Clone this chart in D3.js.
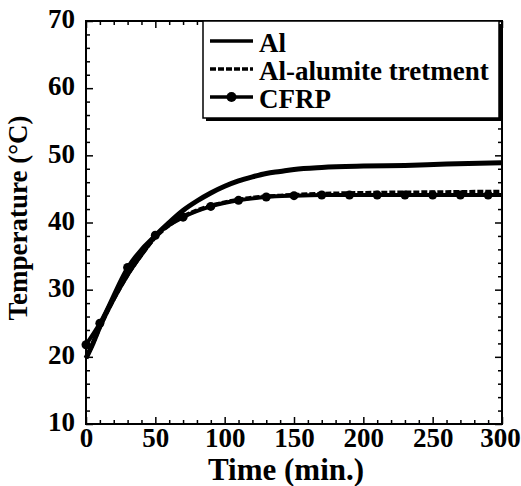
<!DOCTYPE html>
<html>
<head>
<meta charset="utf-8">
<title>Temperature vs time</title>
</head>
<body style="margin:0; background:#fff">
<script src="https://d3js.org/d3.v7.min.js"></script>
<script>
// data (time in min, temperature in degC)
const alTime = [0, 5, 10, 20, 30, 40, 50, 60, 70, 80, 90, 100, 110, 120, 130, 140, 150, 170, 200, 230, 260, 300];
const alTemp = [19.8, 22.0, 24.5, 28.7, 32.3, 35.3, 38.0, 40.0, 41.8, 43.2, 44.4, 45.4, 46.2, 46.8, 47.3, 47.6, 47.9, 48.2, 48.4, 48.5, 48.7, 48.9];

const alumTime = [0, 5, 10, 20, 30, 40, 50, 60, 70, 80, 90, 100, 110, 120, 140, 160, 200, 250, 300];
const alumTemp = [19.8, 22.0, 24.4, 28.6, 32.2, 35.2, 37.8, 39.6, 40.9, 41.8, 42.5, 43.0, 43.4, 43.7, 44.0, 44.2, 44.4, 44.5, 44.6];

const cfrpTime = [0, 10, 30, 50, 70, 90, 110, 130, 150, 170, 190, 210, 230, 250, 270, 290, 300];
const cfrpTemp = [21.8, 25.0, 33.3, 38.1, 40.8, 42.4, 43.3, 43.8, 44.0, 44.1, 44.1, 44.1, 44.1, 44.1, 44.1, 44.1, 44.1];

const legendNames = ["Al", "Al-alumite tretment", "CFRP"];
const xTicks = [0, 50, 100, 150, 200, 250, 300];
const yTicks = [10, 20, 30, 40, 50, 60, 70];

const FONT = "'Liberation Serif', 'Times New Roman', serif";
const w = 521, h = 486;
const margin = {top: 21, right: 19, bottom: 62, left: 86};
const inner_w = w - margin.left - margin.right;
const inner_h = h - margin.top - margin.bottom;

const svg = d3.select('body').append('svg').attr('width', w).attr('height', h);
const g = svg.append('g').attr('transform', `translate(${margin.left},${margin.top})`);

const x = d3.scaleLinear().domain([0, 300]).range([0, inner_w]);
const y = d3.scaleLinear().domain([10, 70]).range([inner_h, 0]);

// minor ticks
const xMinor = d3.range(0, 301, 10).filter(d => d % 50 !== 0);
const yMinor = d3.range(10, 71, 2).filter(d => d % 10 !== 0);

function styleAxis(sel) {
  sel.select('.domain').remove();
  sel.selectAll('line').attr('stroke', '#000').attr('stroke-width', 1.5);
  sel.selectAll('text').attr('fill', '#000');
}

// bottom
g.append('g').attr('transform', `translate(0,${inner_h})`)
  .call(d3.axisBottom(x).tickValues(xTicks).tickSizeInner(-7).tickSizeOuter(0))
  .call(styleAxis)
  .selectAll('text').attr('font-size', 27).attr('dy', '0.71em').attr('y', 4)
  .attr('dx', d => d === 300 ? -2 : 0); // keep the last label inside the window
g.append('g').attr('transform', `translate(0,${inner_h})`)
  .call(d3.axisBottom(x).tickValues(xMinor).tickSizeInner(-4).tickSizeOuter(0).tickFormat(''))
  .call(styleAxis);
// top
g.append('g')
  .call(d3.axisTop(x).tickValues(xTicks).tickSizeInner(-7).tickSizeOuter(0).tickFormat(''))
  .call(styleAxis);
g.append('g')
  .call(d3.axisTop(x).tickValues(xMinor).tickSizeInner(-4).tickSizeOuter(0).tickFormat(''))
  .call(styleAxis);
// left
g.append('g')
  .call(d3.axisLeft(y).tickValues(yTicks).tickSizeInner(-7).tickSizeOuter(0))
  .call(styleAxis)
  .selectAll('text').attr('font-size', 27).attr('x', -11).attr('dy', '0.25em');
g.append('g')
  .call(d3.axisLeft(y).tickValues(yMinor).tickSizeInner(-4).tickSizeOuter(0).tickFormat(''))
  .call(styleAxis);
// right
g.append('g').attr('transform', `translate(${inner_w},0)`)
  .call(d3.axisRight(y).tickValues(yTicks).tickSizeInner(-7).tickSizeOuter(0).tickFormat(''))
  .call(styleAxis);
g.append('g').attr('transform', `translate(${inner_w},0)`)
  .call(d3.axisRight(y).tickValues(yMinor).tickSizeInner(-4).tickSizeOuter(0).tickFormat(''))
  .call(styleAxis);

// frame
g.append('rect').attr('width', inner_w).attr('height', inner_h)
  .attr('fill', 'none').attr('stroke', '#000').attr('stroke-width', 2);

// curves
const line = d3.line().x(d => x(d[0])).y(d => y(d[1])).curve(d3.curveMonotoneX);

g.append('path').datum(d3.zip(cfrpTime, cfrpTemp))
  .attr('d', line).attr('fill', 'none').attr('stroke', '#000').attr('stroke-width', 4);
g.selectAll('circle.cfrp').data(d3.zip(cfrpTime, cfrpTemp).filter(d => d[0] < 300))
  .enter().append('circle').attr('class', 'cfrp')
  .attr('cx', d => x(d[0])).attr('cy', d => y(d[1])).attr('r', 4.5).attr('fill', '#000');

g.append('path').datum(d3.zip(alumTime, alumTemp))
  .attr('d', line).attr('fill', 'none').attr('stroke', '#000').attr('stroke-width', 4)
  .attr('stroke-dasharray', '6,2');

g.append('path').datum(d3.zip(alTime, alTemp))
  .attr('d', line).attr('fill', 'none').attr('stroke', '#000').attr('stroke-width', 5);

// axis titles
svg.append('text').attr('x', 286).attr('y', 480).attr('text-anchor', 'middle')
  .attr('font-size', 31).text('Time (min.)');
svg.append('text').attr('transform', 'translate(27,218) rotate(-90)')
  .attr('text-anchor', 'middle').attr('font-size', 27).text('Temperature (°C)');

// legend
const lg = svg.append('g');
const lx = 203, ly = 21, lw = 296, lh = 97;
lg.append('rect').attr('x', lx + 3).attr('y', ly + 3).attr('width', lw).attr('height', lh).attr('fill', '#000');
lg.append('rect').attr('x', lx).attr('y', ly).attr('width', lw).attr('height', lh)
  .attr('fill', '#fff').attr('stroke', '#000').attr('stroke-width', 1.5);
const rows = legendNames.map((name, i) => ({name, i, yy: ly + 20 + i * 28}));
lg.selectAll('line.leg').data(rows).enter().append('line')
  .attr('x1', 210).attr('x2', 253).attr('y1', d => d.yy).attr('y2', d => d.yy)
  .attr('stroke', '#000').attr('stroke-width', 3.5)
  .attr('stroke-dasharray', d => d.i === 1 ? '6,2' : null);
lg.append('circle').attr('cx', 231.5).attr('cy', rows[2].yy).attr('r', 5).attr('fill', '#000');
lg.selectAll('text.leg').data(rows).enter().append('text')
  .attr('x', 259).attr('y', d => d.yy + 11).attr('font-size', 27).text(d => d.name);

// every label in bold serif, set inline so nothing overrides it
svg.selectAll('text').style('font-family', FONT).style('font-weight', 'bold');
</script>
</body>
</html>
